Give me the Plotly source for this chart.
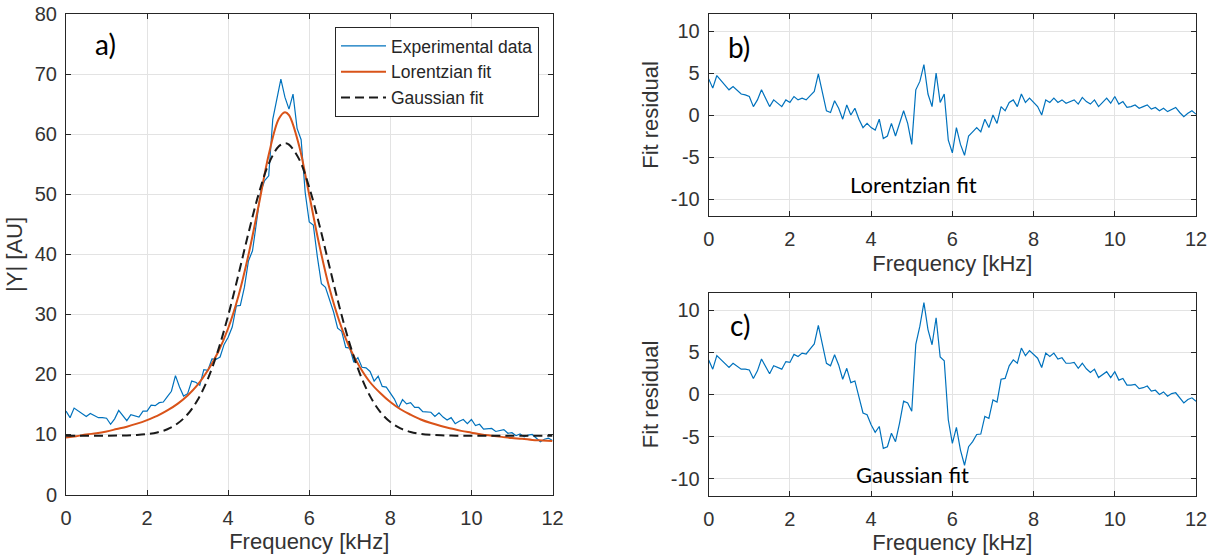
import plotly.graph_objects as go

# Frecuencia de muestreo de los datos experimentales (kHz)
freq = [round(0.1 * i, 1) for i in range(121)]

# |Y| experimental (AU), leído de la figura a)
exp_data = [
    13.9, 12.8, 14.4, 13.9, 13.4, 13.0, 13.5, 13.2, 12.8, 12.8,
    12.7, 11.7, 12.6, 14.0, 13.1, 12.3, 13.3, 13.1, 12.9, 13.9,
    13.9, 14.9, 14.8, 15.3, 15.4, 16.3, 17.2, 19.8, 17.9, 16.4,
    16.8, 18.9, 18.7, 18.2, 20.8, 20.7, 22.6, 22.5, 22.9, 25.0,
    26.2, 27.9, 31.4, 31.5, 34.5, 38.9, 40.6, 45.4, 50.4, 52.3,
    53.1, 62.5, 65.7, 69.2, 66.2, 64.2, 66.7, 61.0, 59.1, 50.3,
    45.4, 44.9, 39.6, 35.1, 34.5, 32.3, 30.4, 27.7, 27.2, 24.5,
    24.4, 22.0, 22.8, 21.2, 21.1, 20.5, 18.9, 19.7, 18.0, 17.9,
    16.9, 15.9, 14.4, 15.8, 15.1, 15.3, 14.5, 14.5, 13.8, 13.7,
    13.7, 13.0, 13.6, 12.9, 12.4, 12.8, 11.8, 12.2, 12.5, 11.8,
    12.5, 11.5, 11.7, 10.9, 10.9, 11.0, 10.5, 10.6, 10.8, 10.2,
    10.3, 9.8, 10.1, 9.6, 9.9, 10.0, 9.4, 8.8, 9.2, 9.4, 9.0,
]

# Curvas de ajuste (muestreadas)
fit_freq = [
    0, 0.25, 0.5, 0.75, 1, 1.25, 1.5, 1.75, 2, 2.25, 2.5, 2.75, 3, 3.25, 3.5, 3.75,
    4, 4.25, 4.5, 4.75, 5, 5.25, 5.4, 5.5, 5.75, 6, 6.25, 6.5, 6.75, 7, 7.25, 7.5,
    7.75, 8, 8.25, 8.5, 8.75, 9, 9.25, 9.5, 9.75, 10, 10.25, 10.5, 10.75, 11, 11.25,
    11.5, 11.75, 12,
]
lorentz_fit = [
    9.5, 9.7, 10.0, 10.2, 10.5, 10.9, 11.3, 11.8, 12.4, 13.1, 14.0, 15.1, 16.5, 18.3, 20.7, 23.7,
    27.7, 33.0, 39.9, 48.1, 56.6, 62.6, 63.7, 63.2, 58.1, 49.9, 41.5, 34.3, 28.7, 24.4, 21.2, 18.7,
    16.9, 15.4, 14.2, 13.3, 12.5, 11.9, 11.4, 11.0, 10.6, 10.3, 10.0, 9.8, 9.6, 9.4, 9.3,
    9.1, 9.0, 8.9,
]
gauss_fit = [
    9.8, 9.8, 9.8, 9.8, 9.8, 9.82, 9.85, 9.92, 10.06, 10.34, 10.87, 11.82, 13.37, 15.79, 19.27, 23.97,
    29.82, 36.53, 43.53, 50.01, 55.09, 58.01, 58.5, 58.28, 55.87, 51.16, 44.89, 37.93, 31.11, 25.05, 20.11, 16.39,
    13.78, 12.07, 11.02, 10.42, 10.10, 9.94, 9.86, 9.82, 9.8, 9.8, 9.8, 9.8, 9.8, 9.8, 9.8,
    9.8, 9.8, 9.8,
]

# Residuales de ajuste
resid_lorentz = [
    4.3, 3.2, 4.7, 4.1, 3.5, 3.0, 3.4, 3.0, 2.5, 2.4,
    2.2, 1.0, 1.8, 3.0, 2.0, 1.0, 1.8, 1.4, 1.0, 1.8,
    1.5, 2.2, 1.8, 2.0, 1.8, 2.3, 2.8, 4.9, 2.5, 0.5,
    0.3, 1.7, 0.8, -0.5, 1.2, 0.0, 0.8, -0.5, -1.5, -1.0,
    -1.5, -1.8, -0.5, -2.8, -2.5, -1.0, -2.5, -1.0, 0.5, -1.0,
    -3.5, 3.0, 4.0, 6.0, 2.5, 1.0, 5.0, 1.5, 2.5, -3.0,
    -4.5, -1.5, -3.5, -4.8, -2.5, -2.0, -1.5, -2.0, -0.5, -1.5,
    0.0, -1.0, 1.0, 0.5, 1.5, 1.8, 1.0, 2.5, 1.5, 2.0,
    1.5, 1.0, 0.0, 1.8, 1.5, 2.0, 1.5, 1.8, 1.4, 1.6,
    1.8, 1.3, 2.1, 1.6, 1.3, 1.8, 1.0, 1.5, 2.0, 1.4,
    2.2, 1.3, 1.6, 0.9, 1.0, 1.2, 0.8, 1.0, 1.2, 0.7,
    0.9, 0.5, 0.8, 0.4, 0.7, 0.9, 0.3, -0.2, 0.2, 0.5, 0.1,
]
resid_gauss = [
    4.1, 3.0, 4.6, 4.1, 3.6, 3.2, 3.7, 3.4, 3.0, 3.0,
    2.9, 1.9, 2.8, 4.2, 3.3, 2.45, 3.4, 3.2, 3.0, 3.9,
    3.8, 4.75, 4.5, 4.9, 4.8, 5.4, 6.0, 8.2, 5.8, 3.7,
    3.4, 4.7, 3.5, 1.8, 3.1, 1.4, 1.6, -0.4, -2.2, -2.4,
    -3.6, -4.5, -3.8, -6.4, -6.2, -4.6, -5.6, -3.4, -0.8, -1.0,
    -2.0, 5.95, 8.1, 10.9, 7.7, 5.9, 9.1, 4.45, 4.0, -3.0,
    -5.8, -3.9, -6.6, -8.4, -6.2, -5.6, -4.75, -4.7, -2.6, -2.85,
    -0.65, -0.9, 1.8, 1.9, 3.4, 4.1, 3.7, 5.5, 4.6, 5.2,
    4.8, 4.3, 3.2, 4.9, 4.5, 4.9, 4.2, 4.35, 3.7, 3.7,
    3.8, 3.1, 3.7, 3.05, 2.6, 3.0, 2.0, 2.4, 2.7, 2.0,
    2.7, 1.7, 1.9, 1.1, 1.1, 1.2, 0.7, 0.8, 1.0, 0.4,
    0.5, 0.0, 0.3, -0.2, 0.1, 0.2, -0.4, -1.0, -0.6, -0.4, -0.8,
]

resid_ticks = [-10, -5, 0, 5, 10]
resid_ticktext = ["-10", "-5", "0", "5", "10"]

AZUL = "#0072BD"
NARANJA = "#D95319"
EJE = "#262626"
GRID = "#e3e3e3"
FUENTE = "Liberation Sans, Arial, sans-serif"
W, H = 1211, 558

fig = go.Figure()

fig.add_trace(go.Scatter(x=freq, y=exp_data, mode="lines", name="Experimental data",
                         line=dict(color=AZUL, width=1.2), xaxis="x", yaxis="y"))
fig.add_trace(go.Scatter(x=fit_freq, y=lorentz_fit, mode="lines", name="Lorentzian fit",
                         line=dict(color=NARANJA, width=2, shape="spline"), xaxis="x", yaxis="y"))
fig.add_trace(go.Scatter(x=fit_freq, y=gauss_fit, mode="lines", name="Gaussian fit",
                         line=dict(color="#1a1a1a", width=2, dash="9px,5px", shape="spline"),
                         xaxis="x", yaxis="y"))
fig.add_trace(go.Scatter(x=freq, y=resid_lorentz, mode="lines", showlegend=False,
                         line=dict(color=AZUL, width=1.2), xaxis="x2", yaxis="y2"))
fig.add_trace(go.Scatter(x=freq, y=resid_gauss, mode="lines", showlegend=False,
                         line=dict(color=AZUL, width=1.2), xaxis="x3", yaxis="y3"))

eje_comun = dict(
    showline=True, linecolor=EJE, linewidth=1, mirror="allticks",
    ticks="inside", ticklen=5, tickcolor=EJE,
    showgrid=True, gridcolor=GRID, gridwidth=1, zeroline=False,
    tickfont=dict(family=FUENTE, size=20, color="#333333"),
)
eje_x = dict(eje_comun, range=[0, 12], dtick=2, ticklabelstandoff=5)
eje_res = dict(eje_comun, range=[-12, 12], tickvals=resid_ticks, ticktext=resid_ticktext,
               ticklabelstandoff=4)
titulo = dict(family=FUENTE, size=22, color="#333333")

fig.update_layout(
    width=W, height=H,
    margin=dict(l=0, r=0, t=0, b=0, autoexpand=False),
    paper_bgcolor="white", plot_bgcolor="white",
    showlegend=True,
    legend=dict(
        x=539 / W, y=1 - 27 / H, xanchor="right", yanchor="top",
        bgcolor="white", bordercolor=EJE, borderwidth=1,
        font=dict(family=FUENTE, size=17.5, color="#262626"),
        tracegroupgap=0, itemwidth=45,
    ),
    xaxis=dict(eje_x, domain=[66 / W, 552.5 / W], anchor="y",
               title=dict(text="Frequency [kHz]", font=titulo, standoff=6)),
    yaxis=dict(eje_comun, domain=[1 - 494.5 / H, 1 - 14.3 / H], range=[0, 80], dtick=10,
               anchor="x", ticklabelstandoff=4,
               title=dict(text="|Y| [AU]", font=titulo, standoff=6)),
    xaxis2=dict(eje_x, domain=[708.7 / W, 1196 / W], anchor="y2",
                title=dict(text="Frequency [kHz]", font=titulo, standoff=6)),
    yaxis2=dict(eje_res, domain=[1 - 215.8 / H, 1 - 14.2 / H], anchor="x2",
                title=dict(text="Fit residual", font=titulo, standoff=6)),
    xaxis3=dict(eje_x, domain=[708.7 / W, 1196 / W], anchor="y3",
                title=dict(text="Frequency [kHz]", font=titulo, standoff=6)),
    yaxis3=dict(eje_res, domain=[1 - 495.6 / H, 1 - 293.3 / H], anchor="x3",
                title=dict(text="Fit residual", font=titulo, standoff=6)),
)

etiqueta = dict(family="Lato, Open Sans, sans-serif", size=28, color="black")
texto = dict(family="Lato, Open Sans, sans-serif", size=22, color="black")
# posiciones (centro) de los rótulos en píxeles de la imagen
rotulos = [
    ("a)", 106, 44, etiqueta),
    ("b)", 739, 47, etiqueta),
    ("c)", 740, 325, etiqueta),
    ("Lorentzian fit", 913, 184, texto),
    ("Gaussian fit", 912, 474, texto),
]
for txt, px_x, px_y, f in rotulos:
    fig.add_annotation(text=txt, x=px_x / W, y=1 - px_y / H, xref="paper", yref="paper",
                       xanchor="center", yanchor="middle", showarrow=False, font=f)

# quitar el margen por defecto del <body> para que la figura quede en (0, 0)
fig.write_html("out.html", config={"displayModeBar": False},
               post_script="document.body.style.margin='0';")
